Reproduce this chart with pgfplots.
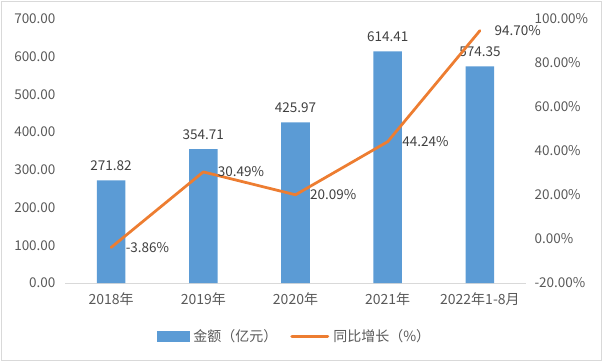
\documentclass[border=0pt]{standalone}
\usepackage{fontspec}
\setmainfont{Noto Sans CJK SC}
\usepackage{pgfplots}
\pgfplotsset{compat=1.18}
\definecolor{barblue}{HTML}{5B9BD5}
\definecolor{lineorange}{HTML}{ED7D31}
\definecolor{ticktext}{HTML}{595959}
\definecolor{labeltext}{HTML}{404040}
\definecolor{axisgray}{HTML}{D9D9D9}
\newcommand{\cf}{\fontsize{13.5bp}{16bp}\selectfont}
\newcommand{\lf}{\fontsize{14bp}{16bp}\selectfont}
\begin{document}
\begin{tikzpicture}
\useasboundingbox (0bp,0bp) rectangle (602bp,-362bp);
\draw[axisgray, line width=1bp] (1bp,-1bp) rectangle (601bp,-360bp);
\pgfplotsset{
 common/.style={
  scale only axis, width=461bp, height=264bp,
  at={(65bp,-283bp)}, anchor=south west,
  xmin=-0.5, xmax=4.5,
  xtick={0,...,4},
  /pgf/number format/assume math mode=true,
  tick style={draw=none},
  ticklabel style={font=\cf, text=ticktext},
 }
}
\begin{axis}[common,
  ymin=0, ymax=700, ytick={0,100,...,700},
  axis x line*=bottom, axis y line*=left,
  y axis line style={draw=none},
  x axis line style={axisgray, line width=1bp, -},
  xticklabels={2018年,2019年,2020年,2021年,2022年1-8月},
  yticklabel style={xshift=-6bp, /pgf/number format/.cd, fixed, fixed zerofill, precision=2},
  xticklabel style={yshift=-6.5bp, font=\lf},
]
\addplot[ybar, bar width=28.5bp, fill=barblue, draw=none,
  nodes near coords,
  nodes near coords style={font=\cf, text=labeltext, yshift=6bp,
    /pgf/number format/.cd, fixed, fixed zerofill, precision=2}]
  coordinates {(0,271.82) (1,354.71) (2,425.97) (3,614.41) (4,574.35)};
\end{axis}
\begin{axis}[common,
  ymin=-20, ymax=100, ytick={-20,0,...,100},
  axis y line*=right, axis x line=none,
  y axis line style={draw=none},
  yticklabel={\pgfmathprintnumber[fixed,fixed zerofill,precision=2]{\tick}\%},
  yticklabel style={xshift=5bp},
  legend style={at={(0.5,-0.203)}, anchor=center, draw=none, fill=none,
    legend columns=2, font=\lf, text=ticktext,
    nodes={inner xsep=4bp},
    /tikz/every even column/.append style={column sep=9bp}},
]
\addlegendimage{legend image code/.code={\fill[barblue] (0bp,-5bp) rectangle (32bp,5bp);}}
\addlegendentry{金额（亿元）}
\addplot[lineorange, line width=2.75bp, line join=round, line cap=round,
  legend image code/.code={\draw[lineorange,line width=3bp] (0bp,0bp)--(36bp,0bp);},
  nodes near coords={\pgfmathprintnumber[fixed,fixed zerofill,precision=2]{\pgfplotspointmeta}\%},
  nodes near coords style={font=\cf, text=labeltext, anchor=west, xshift=10bp}]
  coordinates {(0,-3.86) (1,30.49) (2,20.09) (3,44.24) (4,94.70)};
\addlegendentry{同比增长（\%）}
\end{axis}
\end{tikzpicture}
\end{document}
